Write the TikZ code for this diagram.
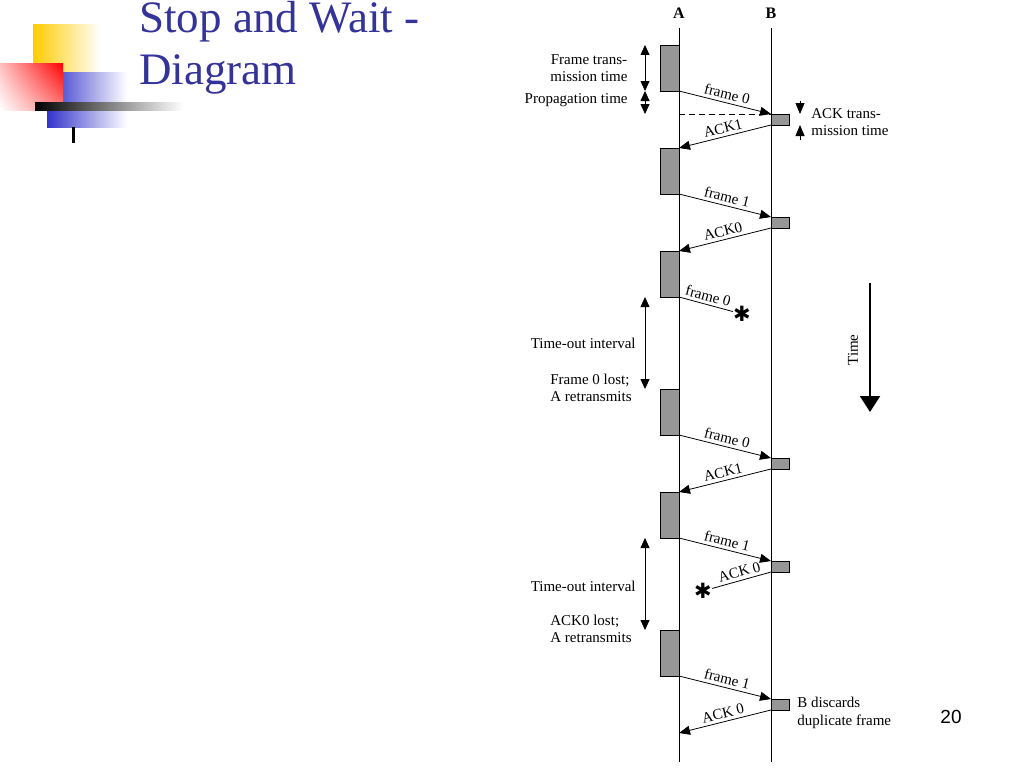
\documentclass[tikz,border=0pt]{standalone}
\usepackage{fontspec}
\setmainfont{Liberation Serif}
\newfontfamily\pagenumfont{Liberation Sans}
\newfontfamily\symfont{DejaVu Sans}
\usetikzlibrary{arrows.meta, shadings}

\definecolor{titleblue}{RGB}{51,51,153}
\definecolor{logoyellow}{RGB}{255,204,0}
\definecolor{logored}{RGB}{255,0,0}
\definecolor{logoblue}{RGB}{51,51,204}
\definecolor{boxgray}{RGB}{150,150,150}

\tikzset{
    abox/.style={draw, fill=boxgray, minimum width=19pt, minimum height=46pt,
        inner sep=0pt, outer sep=0pt, anchor=north east},
    bbox/.style={draw, fill=boxgray, minimum width=18pt, minimum height=11pt,
        inner sep=0pt, outer sep=0pt, anchor=north west},
    msg/.style={-{Triangle[length=11pt, width=9pt]}},
    dimline/.style={{Triangle[length=10pt, width=9pt]}-{Triangle[length=10pt, width=9pt]}},
    msglabel/.style={sloped, above, inner sep=3pt},
    note/.style={inner sep=0pt},
    lost/.style={font=\symfont\fontsize{21}{21}\selectfont, inner sep=0pt},
    titletext/.style={font=\fontsize{45}{52}\selectfont, text=titleblue,
        inner sep=0pt, anchor=base west},
}

\begin{document}
\begin{tikzpicture}[x=1pt, y=-1pt, line width=0.8pt, font=\fontsize{15}{17.5}\selectfont]
    \useasboundingbox (0,0) rectangle (1024,768);

    % logo
    \shade[left color=logoyellow, middle color=logoyellow, right color=white]
            (33,25) rectangle (100,72);
    \shade[left color=logoblue, middle color=logoblue, right color=white]
            (47,72) rectangle (127,127);
    \shade[upper left=logored!25, upper right=logored, lower left=white, lower right=logored!50]
            (0,63) rectangle (63,110);
    \shade[left color=black, right color=white] (35,102) rectangle (183,110);
    \fill[black] (72,127) rectangle (75,143);

    \node[titletext] (title1) at (139,33) {Stop and Wait -};
    \node[titletext] (title2) at (139,84) {Diagram};

    % stations
    \node[font=\bfseries\fontsize{16}{16}\selectfont] (A) at (679,13) {A};
    \node[font=\bfseries\fontsize{16}{16}\selectfont] (B) at (771,13) {B};
    \coordinate (Atop) at (679,28);
    \coordinate (Abot) at (679,762);
    \coordinate (Btop) at (771,28);
    \coordinate (Bbot) at (771,762);
    \draw (Atop) -- (Abot);
    \draw (Btop) -- (Bbot);

    \node[abox] (a1) at (679,45) {};
    \node[abox] (a2) at (679,148) {};
    \node[abox] (a3) at (679,251) {};
    \node[abox] (a4) at (679,389) {};
    \node[abox] (a5) at (679,492) {};
    \node[abox] (a6) at (679,630) {};
    \node[bbox] (b1) at (771,114) {};
    \node[bbox] (b2) at (771,217) {};
    \node[bbox] (b3) at (771,458) {};
    \node[bbox] (b4) at (771,561) {};
    \node[bbox] (b5) at (771,699) {};
    \node[lost] (x1) at (742,314) {✱};
    \node[lost] (x2) at (703,591) {✱};
    \coordinate (ackend) at (679,733);

    % frames and acks
    \draw[msg] (a1.south east) -- node[msglabel] {frame 0} (b1.north west);
    \draw[msg] (b1.south west) -- node[msglabel] {ACK1} (a2.north east);
    \draw[msg] (a2.south east) -- node[msglabel] {frame 1} (b2.north west);
    \draw[msg] (b2.south west) -- node[msglabel] {ACK0} (a3.north east);
    \draw (a3.south east) -- node[msglabel] {frame 0} (x1);
    \draw[msg] (a4.south east) -- node[msglabel] {frame 0} (b3.north west);
    \draw[msg] (b3.south west) -- node[msglabel] {ACK1} (a5.north east);
    \draw[msg] (a5.south east) -- node[msglabel] {frame 1} (b4.north west);
    \draw (b4.south west) -- node[msglabel] {ACK 0} (x2);
    \draw[msg] (a6.south east) -- node[msglabel] {frame 1} (b5.north west);
    \draw[msg] (b5.south west) -- node[msglabel] {ACK 0} (ackend);

    \coordinate (prop) at (679,114);
    \draw[dashed, dash pattern=on 6pt off 4pt] (prop) -- (b1.north west);

    % timing marks
    \coordinate (dimx) at (645,0);
    \draw[dimline] (dimx |- a1.north) -- (dimx |- a1.south);
    \draw[dimline] (dimx |- a1.south) -- (dimx |- b1.north);
    \draw[dimline] (dimx |- a3.south) -- (dimx |- a4.north);
    \draw[dimline] (dimx |- a5.south) -- (dimx |- a6.north);
    \coordinate (ackx) at (800,0);
    \coordinate (ackt1) at (800,101);
    \coordinate (ackt2) at (800,140);
    \draw[msg] (ackt1) -- (ackx |- b1.north);
    \draw[msg] (ackt2) -- (ackx |- b1.south);

    \node[note, align=center] (ftx) at (589,68) {Frame trans-\\mission time};
    \node[note, anchor=east] (ptx) at (628,100) {Propagation time};
    \node[note, align=left, anchor=west] (atx) at (811,122) {ACK trans-\\mission time};
    \node[note, anchor=east] (to1) at (636,343) {Time-out interval};
    \node[note, align=left, anchor=west] (lost1) at (550,388) {Frame 0 lost;\\A retransmits};
    \node[note, anchor=east] (to2) at (636,586) {Time-out interval};
    \node[note, align=left, anchor=west] (lost2) at (550,629) {ACK0 lost;\\A retransmits};
    \node[note, align=left, anchor=west] (disc) at (797,713) {B discards\\duplicate frame};

    % time axis
    \coordinate (time1) at (870,283);
    \coordinate (time2) at (870,412);
    \draw[line width=2pt, -{Triangle[length=16pt, width=20pt]}] (time1) -- (time2);
    \node[note, rotate=90] (timelbl) at (853,350) {Time};

    \node[font=\pagenumfont\fontsize{19}{19}\selectfont] (pagenum) at (951,717) {20};
\end{tikzpicture}
\end{document}
